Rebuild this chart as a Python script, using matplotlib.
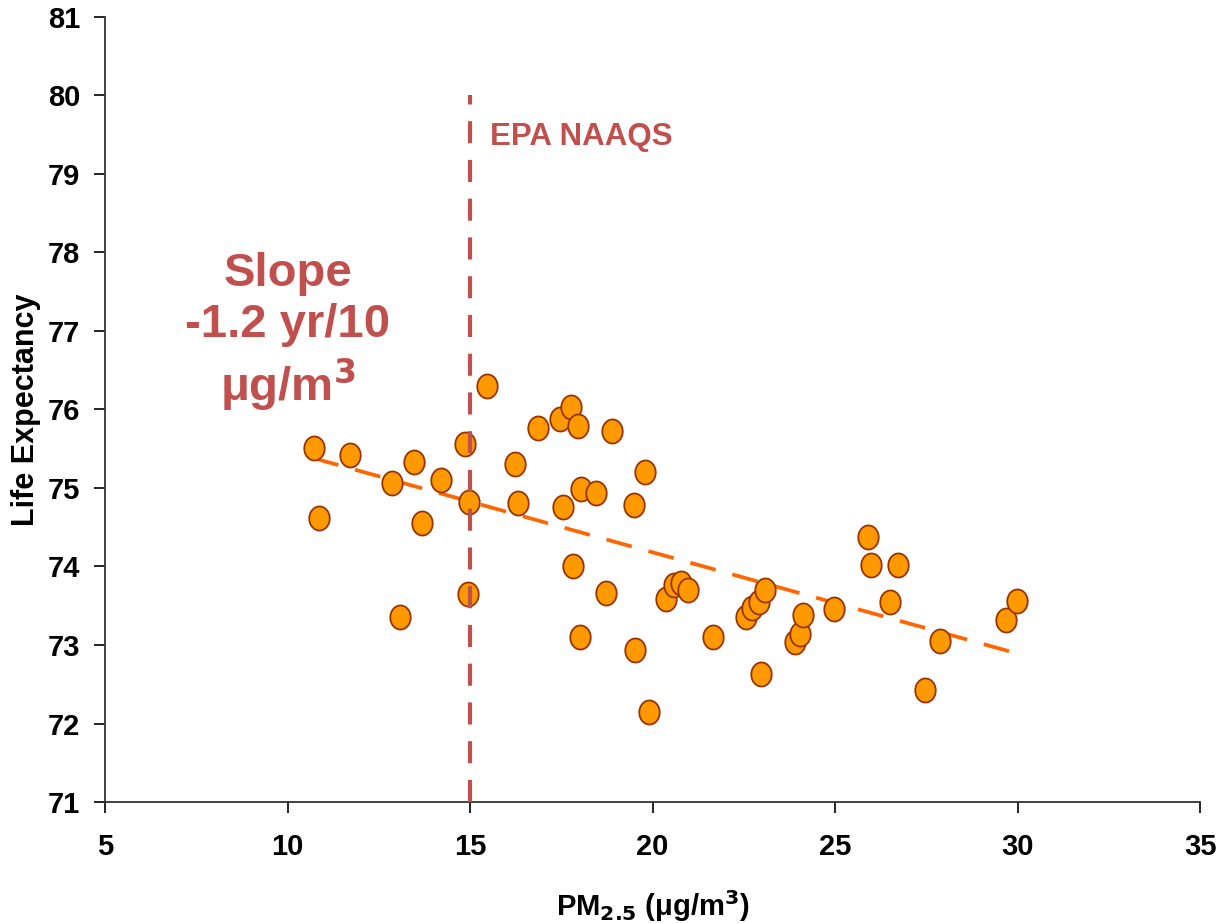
import matplotlib
matplotlib.use("Agg")
import matplotlib.pyplot as plt
import numpy as np
from matplotlib.path import Path

plt.rcParams['font.family'] = ['Liberation Sans', 'DejaVu Sans']

pm25 = [10.73, 10.86, 11.71, 12.86, 13.08, 13.47, 13.68, 14.21, 14.86, 14.97,
        14.95, 15.47, 16.23, 16.32, 16.86, 17.47, 17.77, 17.55, 17.82, 17.96,
        18.04, 18.01, 18.45, 18.89, 18.73, 19.49, 19.79, 19.52, 19.90, 20.37,
        20.59, 20.78, 20.97, 21.66, 22.56, 22.73, 22.92, 23.08, 22.97, 23.90,
        24.04, 24.12, 24.97, 25.90, 25.99, 26.51, 26.73, 27.47, 27.88, 29.68,
        29.99]
life_exp = [75.51, 74.62, 75.42, 75.06, 73.36, 75.33, 74.55, 75.10, 75.56, 74.82,
            73.65, 76.30, 75.31, 74.81, 75.76, 75.88, 76.03, 74.76, 74.01, 75.79,
            74.99, 73.10, 74.94, 75.73, 73.66, 74.78, 75.20, 72.94, 72.15, 73.59,
            73.76, 73.79, 73.70, 73.10, 73.36, 73.47, 73.55, 73.70, 72.63, 73.04,
            73.14, 73.38, 73.46, 74.38, 74.02, 73.55, 74.02, 72.43, 73.05, 73.32,
            73.56]
trend_x = [10.7, 30.0]
trend_y = [75.38, 72.89]
naaqs_x = 15
naaqs_y = [71, 80]
x_ticks = [5, 10, 15, 20, 25, 30, 35]
y_ticks = [71, 72, 73, 74, 75, 76, 77, 78, 79, 80, 81]

red = '#C0504D'

# slightly tall ellipse marker
t = np.linspace(0, 2 * np.pi, 60)
ell = Path(np.column_stack([0.85 * np.cos(t), np.sin(t)]), closed=True)

fig = plt.figure(figsize=(12.21, 9.23), dpi=100)
ax = fig.add_axes([0.086, 0.131, 0.897, 0.851])

ax.plot(trend_x, trend_y, color='#FF6600', lw=2.7, dashes=(7, 4.6), zorder=2)
ax.scatter(pm25, life_exp, s=300, marker=ell, color='#FF9900', edgecolors='#993300',
           linewidths=1.3, zorder=3)
ax.plot([naaqs_x, naaqs_x], naaqs_y, color=red, lw=3, dashes=(5.3, 4), zorder=4)

ax.text(15.55, 79.47, 'EPA NAAQS', color=red, fontsize=22.5, fontweight='bold',
        ha='left', va='center')
ax.text(10.0, 76.98, 'Slope\n-1.2 yr/10\n\u03bcg/m$^\\mathbf{3}$', color=red,
        fontsize=34, fontweight='bold', ha='center', va='center', linespacing=1.2)

ax.set_xlim(5, 35)
ax.set_ylim(71, 81)
ax.set_xticks(x_ticks)
ax.set_yticks(y_ticks)
for s in ['top', 'right']:
    ax.spines[s].set_visible(False)
for s in ['left', 'bottom']:
    ax.spines[s].set_linewidth(1.3)
    ax.spines[s].set_color('#333333')
ax.tick_params(direction='out', length=8, width=1.2, labelsize=21)
ax.tick_params(axis='y', pad=10)
ax.tick_params(axis='x', pad=14)
for lab in ax.get_xticklabels() + ax.get_yticklabels():
    lab.set_fontweight('bold')
ax.set_xlabel('PM$_{\\mathbf{2.5}}$ (\u03bcg/m$^{\\mathbf{3}}$)', fontsize=21,
              fontweight='bold', labelpad=20)
ax.set_ylabel('Life Expectancy', fontsize=22, fontweight='bold')
ax.yaxis.set_label_coords(-0.058, 0.5)

fig.savefig('out.png', dpi=100)
